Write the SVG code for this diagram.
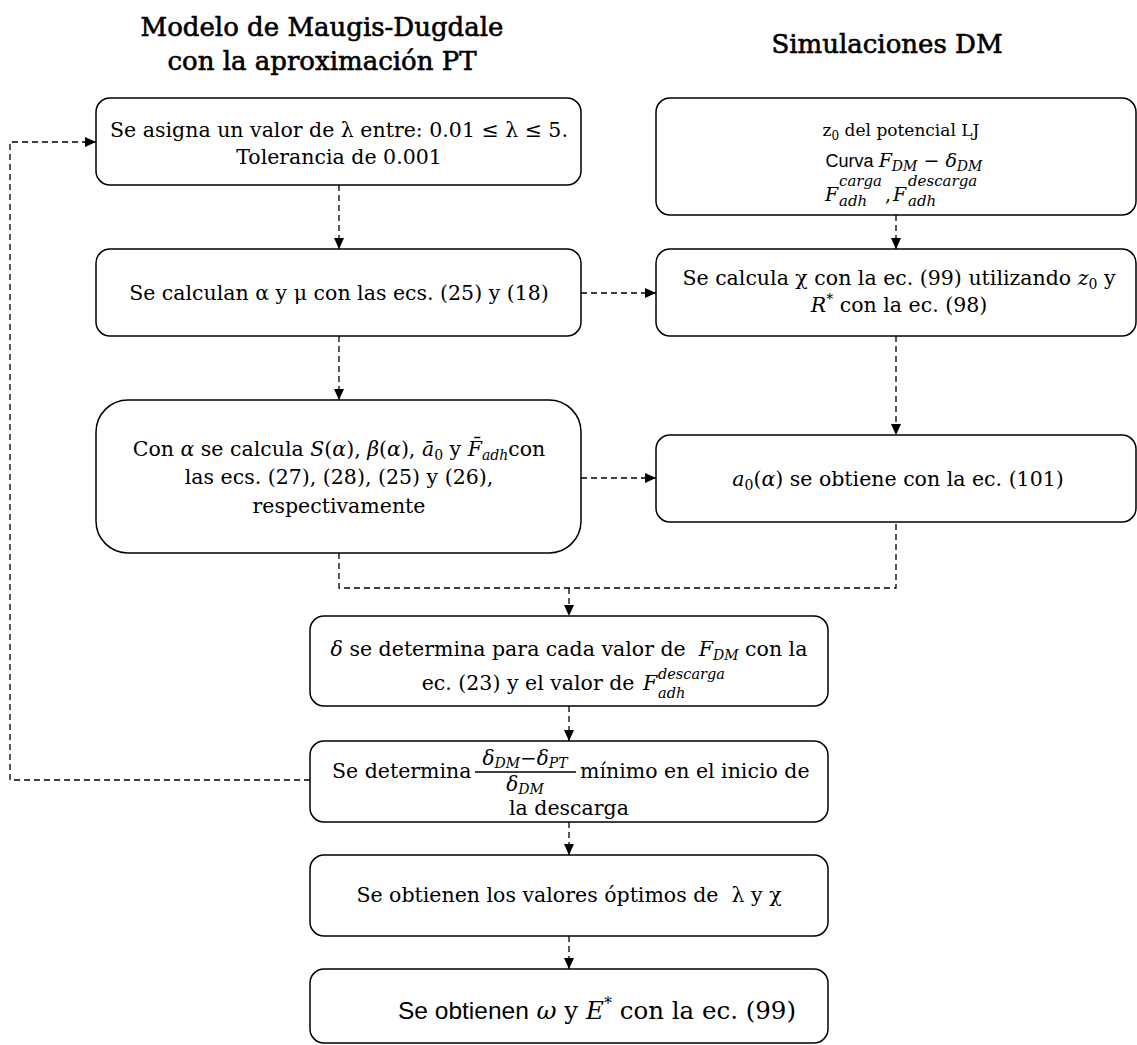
<svg xmlns="http://www.w3.org/2000/svg" width="1137" height="1045" viewBox="0 0 1137 1045">
<style>
.box{fill:#fff;stroke:#000;stroke-width:1.5}
.t{font-family:"DejaVu Serif","Liberation Serif",serif;font-size:20.5px;fill:#000;white-space:pre}
.c{text-anchor:middle}
.title{font-family:"DejaVu Serif","Liberation Serif",serif;font-size:26px;text-anchor:middle;fill:#000;stroke:#000;stroke-width:0.6}
.m{font-style:italic}
.s{font-family:"Liberation Sans",Arial,sans-serif}
.conn{fill:none;stroke:#000;stroke-width:1.3;stroke-dasharray:6 4}
</style>
<defs>
<marker id="ah" markerWidth="11" markerHeight="10" refX="11" refY="5" orient="auto" markerUnits="userSpaceOnUse"><path d="M0,0 L11,5 L0,10 Z" fill="#000"/></marker>
</defs>
<g id="titles">
<text class="title" x="322" y="36">Modelo de Maugis-Dugdale</text>
<text class="title" x="322" y="70">con la aproximación PT</text>
<text class="title" x="887" y="53">Simulaciones DM</text>
</g>
<g id="connectors">
<path class="conn" d="M339,185 V249" marker-end="url(#ah)"/>
<path class="conn" d="M896,215 V249" marker-end="url(#ah)"/>
<path class="conn" d="M581,293 H656" marker-end="url(#ah)"/>
<path class="conn" d="M339,336 V400" marker-end="url(#ah)"/>
<path class="conn" d="M896,336 V435" marker-end="url(#ah)"/>
<path class="conn" d="M581,478 H656" marker-end="url(#ah)"/>
<path class="conn" d="M339,553 V588 H896 V522"/>
<path class="conn" d="M569,588 V616" marker-end="url(#ah)"/>
<path class="conn" d="M569,706 V741" marker-end="url(#ah)"/>
<path class="conn" d="M310,780 H10 V142 H96" marker-end="url(#ah)"/>
<path class="conn" d="M569,822 V855" marker-end="url(#ah)"/>
<path class="conn" d="M569,936 V969" marker-end="url(#ah)"/>
</g>
<g id="nodeA">
<rect class="box" x="96" y="98" width="485" height="87" rx="14"/>
<text class="t c" x="339" y="137">Se asigna un valor de λ entre: 0.01 ≤ λ ≤ 5.</text>
<text class="t c" x="339" y="164">Tolerancia de 0.001</text>
</g>
<g id="nodeRT">
<rect class="box" x="656" y="98" width="480" height="117" rx="14"/>
<text class="t c" x="901" y="136" style="font-size:17px"><tspan>z</tspan><tspan style="font-size:12px" dy="4">0</tspan><tspan dy="-4"> del potencial LJ</tspan></text>
<text class="t c" x="904" y="167" style="font-size:19px"><tspan class="s" style="font-size:18px">Curva </tspan><tspan class="m">F</tspan><tspan class="m" style="font-size:14px" dy="4">DM</tspan><tspan dy="-4"> − </tspan><tspan class="m">δ</tspan><tspan class="m" style="font-size:14px" dy="4">DM</tspan></text>
<text class="t m" x="825" y="201" style="font-size:19px">F</text>
<text class="t m" x="839" y="186" style="font-size:15px">carga</text>
<text class="t m" x="839" y="206" style="font-size:15px">adh</text>
<text class="t" x="885" y="201" style="font-size:19px">,</text>
<text class="t m" x="893" y="201" style="font-size:19px">F</text>
<text class="t m" x="908" y="186" style="font-size:15px">descarga</text>
<text class="t m" x="908" y="206" style="font-size:15px">adh</text>
</g>
<g id="nodeB">
<rect class="box" x="96" y="249" width="485" height="87" rx="14"/>
<text class="t c" x="339" y="300">Se calculan α y μ con las ecs. (25) y (18)</text>
</g>
<g id="nodeR2">
<rect class="box" x="656" y="249" width="480" height="87" rx="14"/>
<text class="t c" x="899" y="285">Se calcula χ con la ec. (99) utilizando <tspan class="m">z</tspan><tspan style="font-size:14px" dy="4">0</tspan><tspan dy="-4"> y</tspan></text>
<text class="t c" x="899" y="312"><tspan class="m">R</tspan><tspan style="font-size:14px" dy="-8">*</tspan><tspan dy="8"> con la ec. (98)</tspan></text>
</g>
<g id="nodeC">
<rect class="box" x="96" y="400" width="485" height="153" rx="32"/>
<text class="t c" x="339" y="456">Con <tspan class="m">α</tspan> se calcula <tspan class="m">S</tspan>(<tspan class="m">α</tspan>), <tspan class="m">β</tspan>(<tspan class="m">α</tspan>), <tspan class="m">ā</tspan><tspan style="font-size:14px" dy="4">0</tspan><tspan dy="-4"> y </tspan><tspan class="m">F̄</tspan><tspan class="m" style="font-size:14px" dy="4">adh</tspan><tspan dy="-4">con</tspan></text>
<text class="t c" x="339" y="484">las ecs. (27), (28), (25) y (26),</text>
<text class="t c" x="339" y="513">respectivamente</text>
</g>
<g id="nodeR3">
<rect class="box" x="656" y="435" width="480" height="87" rx="14"/>
<text class="t c" x="898" y="486"><tspan class="m">a</tspan><tspan style="font-size:14px" dy="4">0</tspan><tspan dy="-4">(</tspan><tspan class="m">α</tspan>) se obtiene con la ec. (101)</text>
</g>
<g id="nodeD">
<rect class="box" x="310" y="616" width="518" height="90" rx="14"/>
<text class="t c" x="569" y="656"><tspan class="m">δ</tspan> se determina para cada valor de  <tspan class="m">F</tspan><tspan class="m" style="font-size:14px" dy="4">DM</tspan><tspan dy="-4"> con la</tspan></text>
<text class="t" x="641" y="690" style="text-anchor:end">ec. (23) y el valor de </text>
<text class="t m" x="643" y="690">F</text>
<text class="t m" x="658" y="679" style="font-size:14.5px">descarga</text>
<text class="t m" x="658" y="698" style="font-size:14.5px">adh</text>
</g>
<g id="nodeE">
<rect class="box" x="310" y="741" width="518" height="81" rx="14"/>
<text class="t" x="332" y="778">Se determina</text>
<text class="t c" x="525" y="765" style="font-size:20px"><tspan class="m">δ</tspan><tspan class="m" style="font-size:14px" dy="3">DM</tspan><tspan dy="-3">−</tspan><tspan class="m">δ</tspan><tspan class="m" style="font-size:14px" dy="3">PT</tspan></text>
<line x1="475" y1="772" x2="576" y2="772" stroke="#000" stroke-width="1.3"/>
<text class="t c" x="525" y="791" style="font-size:20px"><tspan class="m">δ</tspan><tspan class="m" style="font-size:14px" dy="3">DM</tspan></text>
<text class="t" x="580" y="778">mínimo en el inicio de</text>
<text class="t c" x="569" y="815">la descarga</text>
</g>
<g id="nodeF">
<rect class="box" x="310" y="855" width="518" height="81" rx="14"/>
<text class="t c" x="569" y="902">Se obtienen los valores óptimos de  λ y χ</text>
</g>
<g id="nodeG">
<rect class="box" x="310" y="969" width="518" height="74" rx="14"/>
<text class="t" x="398" y="1019" style="font-size:24.5px"><tspan class="s">Se obtienen</tspan> <tspan class="m">ω</tspan> y <tspan class="m">E</tspan><tspan style="font-size:16px" dy="-10">*</tspan><tspan dy="10"> con la ec. (99)</tspan></text>
</g>
</svg>
